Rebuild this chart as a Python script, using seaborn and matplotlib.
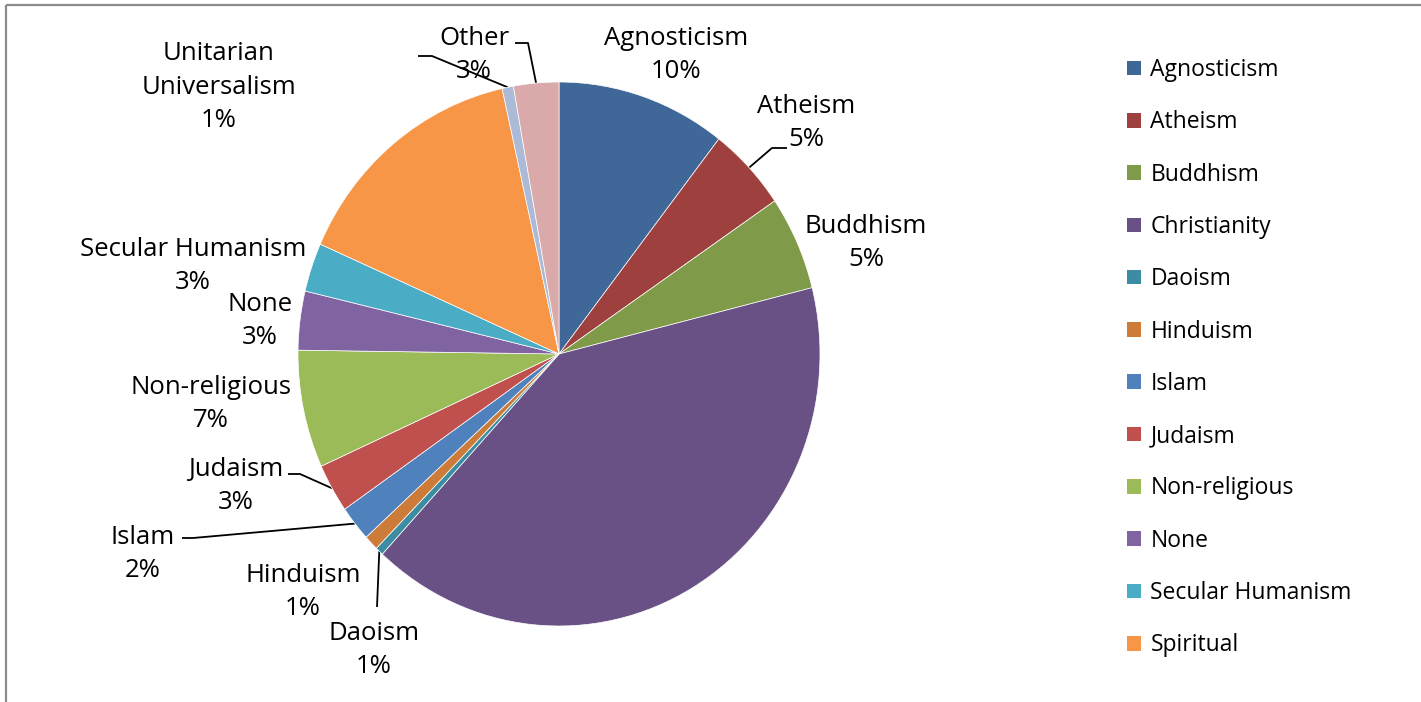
import numpy as np
import matplotlib
matplotlib.use("Agg")
import matplotlib.pyplot as plt
import seaborn as sns
from matplotlib.patches import Rectangle, Patch

# ---------------- data ----------------
categories = ["Agnosticism", "Atheism", "Buddhism", "Christianity", "Daoism",
              "Hinduism", "Islam", "Judaism", "Non-religious", "None",
              "Secular Humanism", "Spiritual", "Unitarian Universalism", "Other"]
shares = [10.5, 5.0, 5.6, 40.8, 0.5, 0.9, 2.1, 2.9, 7.0, 3.5, 2.9, 14.9, 0.7, 2.8]
pct_labels = ["10%", "5%", "5%", "41%", "1%", "1%", "2%", "3%", "7%", "3%",
              "3%", "15%", "1%", "3%"]
label_names = ["Agnosticism", "Atheism", "Buddhism", "Christianity", "Daoism",
               "Hinduism", "Islam", "Judaism", "Non-religious", "None",
               "Secular Humanism", "Spiritual", "Unitarian\nUniversalism", "Other"]
legend_entries = categories[:12]

# ---------------- style ----------------
colors = ["#3F6899", "#9E413E", "#7F9A48", "#695185", "#3C8DA3", "#CC7B38",
          "#4F81BD", "#C0504D", "#9BBB59", "#8064A2", "#4BACC6", "#F79646",
          "#AABAD7", "#D9AAA9"]

sns.set_theme(style="white")
plt.rcParams['font.family'] = ['Open Sans', 'DejaVu Sans']
plt.rcParams['text.color'] = 'black'

W, H = 1421, 702
fig = plt.figure(figsize=(W / 100, H / 100), dpi=100)
fig.patch.set_facecolor("white")

# overlay axes in pixel coordinates (for frame, labels, leader lines)
ov = fig.add_axes([0, 0, 1, 1])
ov.set_xlim(0, W)
ov.set_ylim(H, 0)
ov.axis("off")

# chart frame
ov.add_patch(Rectangle((6, 5), W + 50, H + 50, fill=False,
                       edgecolor="#8C8C8C", linewidth=1.6, zorder=0))

# pie axes (slightly elliptical like the original)
cx, cy, rx, ry = 559, 354, 261, 272
pax = fig.add_axes([(cx - rx) / W, (H - cy - ry) / H, 2 * rx / W, 2 * ry / H])
wedges, _ = pax.pie(shares, colors=colors, startangle=90, counterclock=False,
                    wedgeprops=dict(edgecolor="white", linewidth=0.5))
pax.set_aspect("auto")
pax.set_xlim(-1, 1)
pax.set_ylim(-1, 1)
pax.axis("off")


def rim_point(w):
    th = np.deg2rad((w.theta1 + w.theta2) / 2)
    disp = pax.transData.transform((w.r * np.cos(th), w.r * np.sin(th)))
    return disp[0], H - disp[1]


# label layout (pixel centres) and leader elbows
label_pos = {
    "Agnosticism": (676, 55), "Atheism": (806, 123), "Buddhism": (866, 243),
    "Christianity": (681, 496), "Daoism": (374, 650), "Hinduism": (303, 592),
    "Islam": (143, 554), "Judaism": (236, 486), "Non-religious": (211, 404),
    "None": (260, 321), "Secular Humanism": (193, 266), "Spiritual": (432, 208),
    "Unitarian Universalism": (219, 87), "Other": (474, 55),
}
leaders = {
    "Atheism": [(772, 148), (787, 148)],
    "Daoism": [(377, 607)],
    "Islam": [(193, 538), (182, 538)],
    "Judaism": [(300, 474), (288, 474)],
    "Unitarian Universalism": [(432, 56), (418, 56)],
    "Other": [(528, 43), (515, 43)],
}

fig.canvas.draw()
for w, cat, name, pct in zip(wedges, categories, label_names, pct_labels):
    x, y = label_pos[cat]
    ov.text(x, y, f"{name}\n{pct}", ha="center", va="center", fontsize=18.5,
            color="black", linespacing=1.45, zorder=5)
    if cat in leaders:
        pts = [rim_point(w)] + leaders[cat]
        xs, ys = zip(*pts)
        ov.plot(xs, ys, color="black", linewidth=1.3, zorder=4,
                solid_capstyle="butt")

# legend
handles = [Patch(facecolor=colors[i], edgecolor="none") for i in range(len(legend_entries))]
fig.legend(handles, legend_entries, loc="upper left",
           bbox_to_anchor=(1127 / W, 1 - 58 / H), frameon=False,
           fontsize=16.5, handlelength=0.6, handleheight=0.6, labelcolor="black",
           handletextpad=0.42, labelspacing=1.235, borderpad=0, borderaxespad=0)

fig.savefig("out.png", dpi=100)
